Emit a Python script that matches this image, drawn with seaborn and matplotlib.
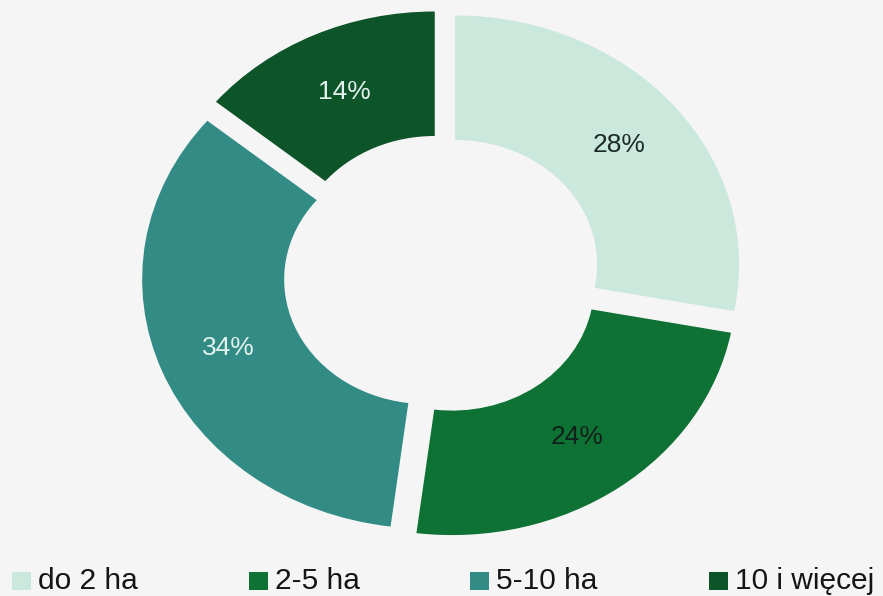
import matplotlib
matplotlib.use("Agg")
import matplotlib.pyplot as plt
import seaborn as sns
from matplotlib.patches import Rectangle

sns.set_theme(style="white")
plt.rcParams['font.family'] = ['Liberation Sans', 'DejaVu Sans']

# data
categories = ["do 2 ha", "2-5 ha", "5-10 ha", "10 i więcej"]
shares = [28, 24, 34, 14]
colors = ["#cbe8dd", "#0f7235", "#338b85", "#0d5429"]
label_colors = ["#1c2a28", "#10201a", "#e4f2ef", "#e4f2ef"]

W, H = 883, 596
fig = plt.figure(figsize=(W / 100, H / 100), dpi=100)
bg = "#f5f5f6"
fig.patch.set_facecolor(bg)

# pie geometry in pixels (elliptical, scanned image stretched)
cx, cy, Rx, Ry = 442, 274, 284, 249
lim = 1.2
ax = fig.add_axes([(cx - lim * Rx) / W, 1 - (cy + lim * Ry) / H,
                   2 * lim * Rx / W, 2 * lim * Ry / H])
ax.set_facecolor(bg)

wedges, texts, autotexts = ax.pie(
    shares, colors=colors, startangle=90, counterclock=False,
    explode=[0.06] * len(shares), autopct='%d%%', pctdistance=0.75,
    wedgeprops=dict(width=0.5, linewidth=0),
    textprops=dict(fontsize=19))
for t, c in zip(autotexts, label_colors):
    t.set_color(c)
ax.set_aspect('auto')
ax.set_xlim(-lim, lim)
ax.set_ylim(-lim, lim)
ax.axis('off')

# legend
leg_x = [12, 249, 470, 709]
sq_w, sq_h = 19, 18
sq_top = 572
baseline = 589
for x, lab, col in zip(leg_x, categories, colors):
    fig.patches.append(Rectangle((x / W, 1 - (sq_top + sq_h) / H), sq_w / W, sq_h / H,
                                 transform=fig.transFigure, facecolor=col,
                                 edgecolor='none'))
    fig.text((x + sq_w + 7) / W, 1 - baseline / H, lab, fontsize=21.5,
             va='baseline', ha='left', color='#151515')

fig.savefig("out.png", dpi=100, facecolor=bg)
